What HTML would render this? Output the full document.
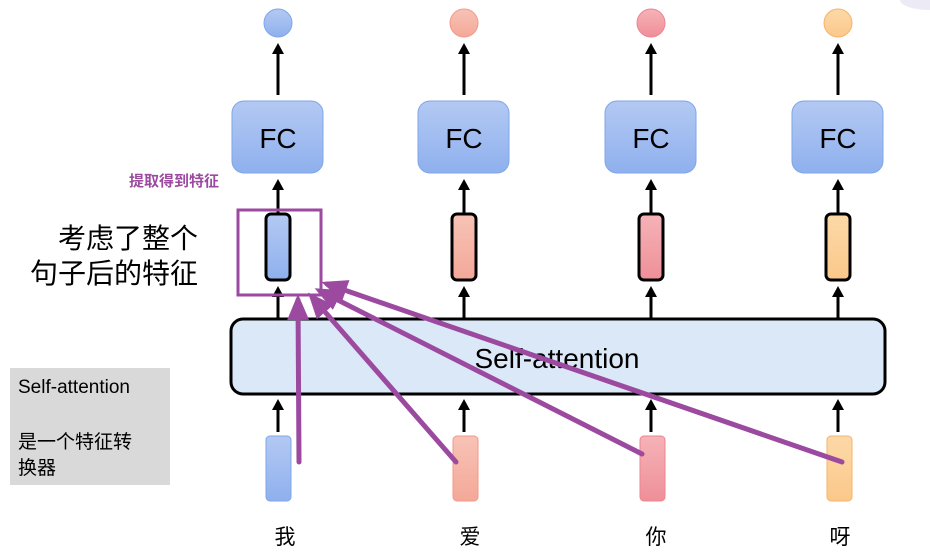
<!DOCTYPE html>
<html><head><meta charset="utf-8"><style>
body{margin:0;background:#fff;width:930px;height:552px;overflow:hidden}
svg text{font-family:"Liberation Sans","Noto Sans CJK SC",sans-serif}
</style></head><body>
<svg width="930" height="552" viewBox="0 0 930 552" xmlns="http://www.w3.org/2000/svg">
<defs>
<marker id="a" markerWidth="11" markerHeight="12" refX="4" refY="6" orient="auto" markerUnits="userSpaceOnUse"><path d="M0,0 L11,6 L0,12 z" fill="#000"/></marker>
<marker id="p" markerWidth="26" markerHeight="22" refX="20" refY="11" orient="auto" markerUnits="userSpaceOnUse"><path d="M0,0 L26,11 L0,22 z" fill="#9b4aa0"/></marker>
<linearGradient id="gb" x1="0" y1="0" x2="0" y2="1"><stop offset="0" stop-color="#b3c9f2"/><stop offset="1" stop-color="#8fb0ee"/></linearGradient>
<linearGradient id="gs" x1="0" y1="0" x2="0" y2="1"><stop offset="0" stop-color="#f7c3b6"/><stop offset="1" stop-color="#f4a898"/></linearGradient>
<linearGradient id="gp" x1="0" y1="0" x2="0" y2="1"><stop offset="0" stop-color="#f5b3b8"/><stop offset="1" stop-color="#ef8f98"/></linearGradient>
<linearGradient id="go" x1="0" y1="0" x2="0" y2="1"><stop offset="0" stop-color="#fcd9a8"/><stop offset="1" stop-color="#fbc88a"/></linearGradient>
</defs>
<ellipse cx="930" cy="0" rx="30" ry="10" fill="#eceaf4"/>
<rect x="10" y="368" width="160" height="117" fill="#d9d9d9"/>
<text x="18" y="393" font-size="19">Self-attention</text>
<text x="18" y="448" font-size="19">是一个特征转</text>
<text x="18" y="474" font-size="19">换器</text>
<text x="198" y="248" font-size="28" text-anchor="end">考虑了整个</text>
<text x="198" y="283" font-size="28" text-anchor="end">句子后的特征</text>
<text x="219" y="186" font-size="15" font-weight="bold" fill="#9b4aa0" text-anchor="end">提取得到特征</text>
<rect x="231" y="319" width="654" height="75" rx="12" fill="#dbe8f7" stroke="#000" stroke-width="3"/>
<text x="557" y="368" font-size="28" text-anchor="middle">Self-attention</text>
<g stroke="#000" stroke-width="3">
<line x1="278" y1="95" x2="278" y2="50" marker-end="url(#a)"/><line x1="464" y1="95" x2="464" y2="50" marker-end="url(#a)"/><line x1="651" y1="95" x2="651" y2="50" marker-end="url(#a)"/><line x1="838" y1="95" x2="838" y2="50" marker-end="url(#a)"/>
<line x1="278" y1="213" x2="278" y2="186" marker-end="url(#a)"/><line x1="464" y1="213" x2="464" y2="186" marker-end="url(#a)"/><line x1="651" y1="213" x2="651" y2="186" marker-end="url(#a)"/><line x1="838" y1="213" x2="838" y2="186" marker-end="url(#a)"/>
<line x1="278" y1="319" x2="278" y2="293" marker-end="url(#a)"/><line x1="464" y1="319" x2="464" y2="293" marker-end="url(#a)"/><line x1="651" y1="319" x2="651" y2="293" marker-end="url(#a)"/><line x1="838" y1="319" x2="838" y2="293" marker-end="url(#a)"/>
<line x1="278" y1="432" x2="278" y2="406" marker-end="url(#a)"/><line x1="464" y1="432" x2="464" y2="406" marker-end="url(#a)"/><line x1="651" y1="432" x2="651" y2="406" marker-end="url(#a)"/><line x1="838" y1="432" x2="838" y2="406" marker-end="url(#a)"/>
</g>
<circle cx="278" cy="23" r="14" fill="url(#gb)" stroke="#7fa6ea"/>
<circle cx="464" cy="23" r="14" fill="url(#gs)" stroke="#f29a88"/>
<circle cx="651" cy="23" r="14" fill="url(#gp)" stroke="#ec8590"/>
<circle cx="838" cy="23" r="14" fill="url(#go)" stroke="#f6b46a"/>
<g stroke="#7fa6ea" fill="url(#gb)">
<rect x="232" y="101" width="91" height="72" rx="12"/><rect x="418" y="101" width="91" height="72" rx="12"/><rect x="605" y="101" width="91" height="72" rx="12"/><rect x="792" y="101" width="91" height="72" rx="12"/>
</g>
<g font-size="28" text-anchor="middle"><text x="278" y="148">FC</text><text x="464" y="148">FC</text><text x="651" y="148">FC</text><text x="838" y="148">FC</text></g>
<g stroke="#000" stroke-width="3">
<rect x="266" y="214" width="24" height="66" rx="5" fill="url(#gb)"/>
<rect x="452" y="214" width="24" height="66" rx="5" fill="url(#gs)"/>
<rect x="639" y="214" width="24" height="66" rx="5" fill="url(#gp)"/>
<rect x="826" y="214" width="24" height="66" rx="5" fill="url(#go)"/>
</g>
<rect x="266" y="436" width="25" height="65" rx="4" fill="url(#gb)" stroke="#7fa6ea"/>
<rect x="453" y="436" width="25" height="65" rx="4" fill="url(#gs)" stroke="#f29a88"/>
<rect x="640" y="436" width="25" height="65" rx="4" fill="url(#gp)" stroke="#ec8590"/>
<rect x="827" y="436" width="25" height="65" rx="4" fill="url(#go)" stroke="#f6b46a"/>
<g font-size="21" text-anchor="middle"><text x="285" y="544">我</text><text x="470" y="544">爱</text><text x="656" y="544">你</text><text x="840" y="544">呀</text></g>
<rect x="238" y="210" width="83" height="85" fill="none" stroke="#9b4aa0" stroke-width="3"/>
<g stroke="#9b4aa0" stroke-width="5" stroke-linecap="round" fill="none">
<line x1="299" y1="462" x2="298" y2="300" marker-end="url(#p)"/>
<line x1="456" y1="462" x2="312" y2="297" marker-end="url(#p)"/>
<line x1="642" y1="454" x2="320" y2="291" marker-end="url(#p)"/>
<line x1="842" y1="462" x2="327" y2="284" marker-end="url(#p)"/>
</g>
</svg>
</body></html>
